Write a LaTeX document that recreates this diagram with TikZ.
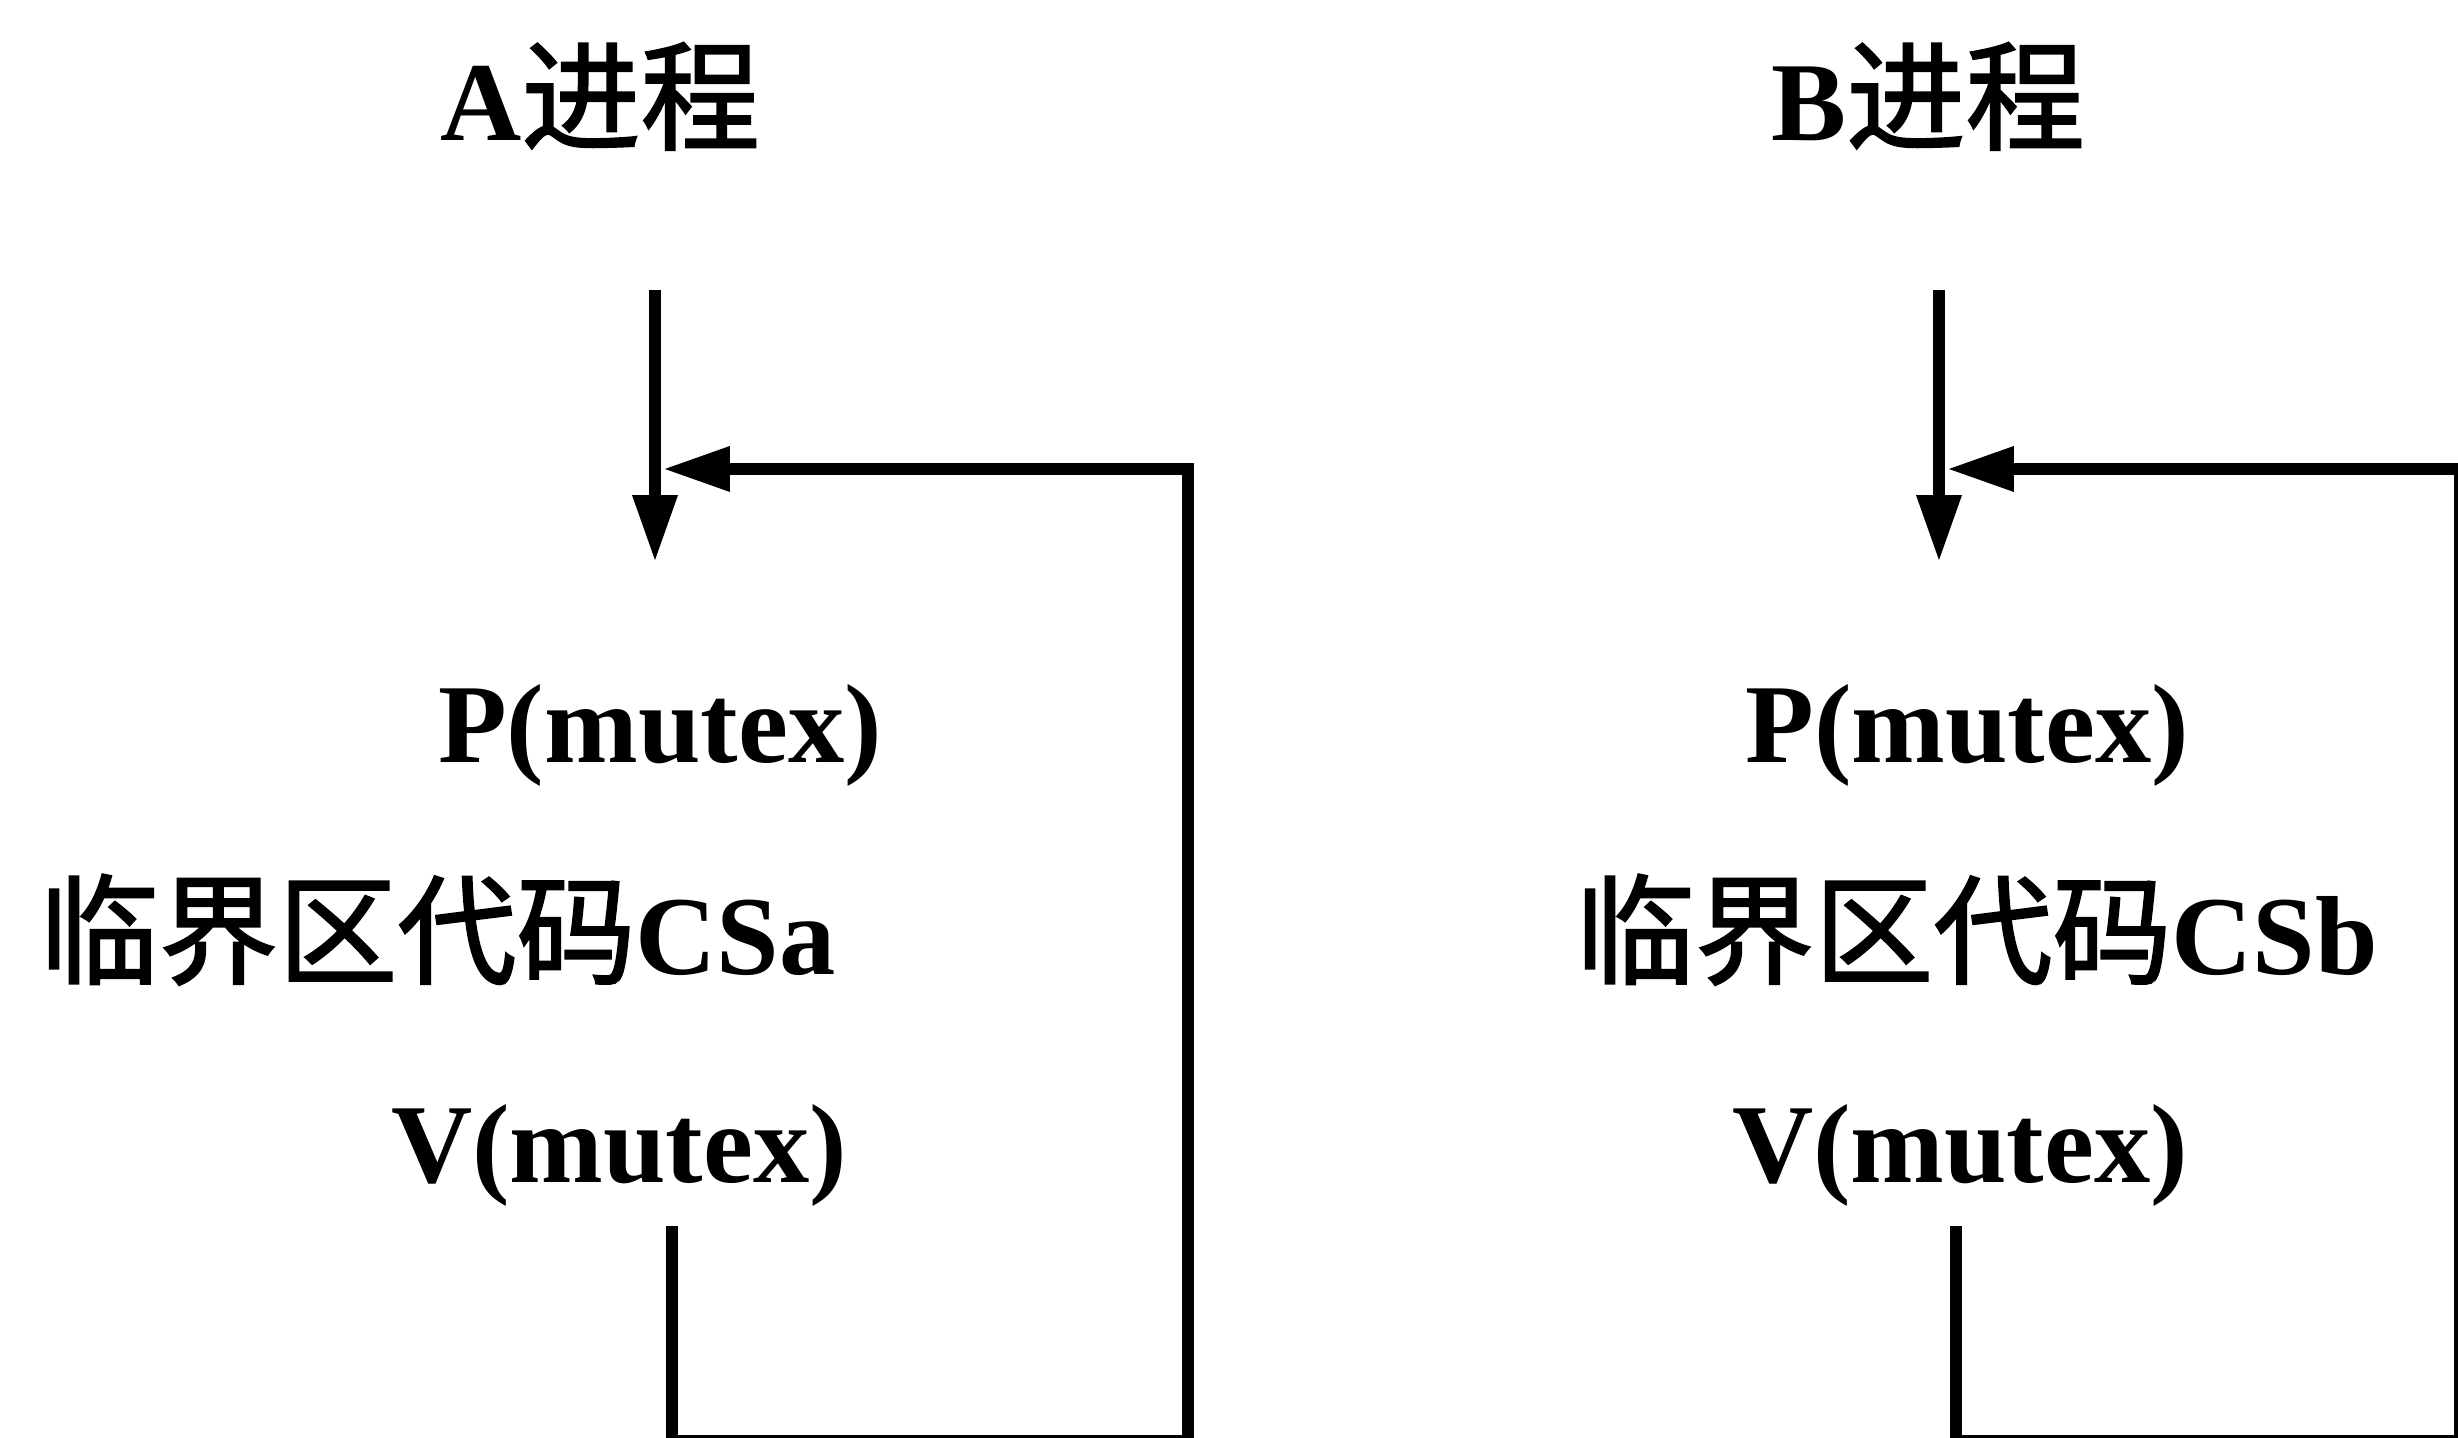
\documentclass[tikz,border=0pt]{standalone}
\usepackage{fontspec}
\setmainfont{Liberation Serif}
\newfontfamily\cjk[Scale=1.06, FakeBold=1.6]{Noto Sans CJK SC}
\newcommand{\zh}[1]{{\cjk\mdseries #1}}
\usetikzlibrary{positioning}
\usetikzlibrary{arrows.meta}
\tikzset{
    mytext/.style = {anchor=base, inner sep=0pt, font=\bfseries\fontsize{32}{38}\selectfont, text=black},
    edgen/.style = {-, line width=3.4pt, black},
    edgea/.style = {-{Triangle[length=19pt,width=12pt]}, line width=3.4pt, black}, % flow
}

\begin{document}
\begin{tikzpicture}
\useasboundingbox (0,0) rectangle (24.58,14.38);

\node[mytext] at ( 6.00, 12.97) (titleA) {A\zh{进程}};
\node[mytext] at (19.28, 12.97) (titleB) {B\zh{进程}};

\node[mytext] at ( 6.60,  6.75) (pA) {P(mutex)};
\node[mytext, anchor=base west] at ( 0.39,  4.63) (csA) {\zh{临界区代码}CSa};
\node[mytext] at ( 6.19,  2.55) (vA) {V(mutex)};

\node[mytext] at (19.67,  6.75) (pB) {P(mutex)};
\node[mytext, anchor=base west] at (15.75,  4.63) (csB) {\zh{临界区代码}CSb};
\node[mytext] at (19.60,  2.55) (vB) {V(mutex)};

\coordinate (inA)   at ( 6.55, 11.48);
\coordinate (tipA)  at ( 6.55,  8.76);
\coordinate (joinA) at ( 6.63,  9.69);
\coordinate (outA)  at ( 6.72,  2.12);
\coordinate (botA)  at ( 6.72, -0.03);
\coordinate (cornA) at (11.88, -0.03);
\coordinate (topA)  at (11.88,  9.69);

\coordinate (inB)   at (19.39, 11.48);
\coordinate (tipB)  at (19.39,  8.76);
\coordinate (joinB) at (19.47,  9.69);
\coordinate (outB)  at (19.56,  2.12);
\coordinate (botB)  at (19.56, -0.03);
\coordinate (cornB) at (24.60, -0.03);
\coordinate (topB)  at (24.60,  9.69);

\draw[edgea] (inA) -- (tipA);
\draw[edgea] (outA) -- (botA) -- (cornA) -- (topA) -- (joinA);

\draw[edgea] (inB) -- (tipB);
\draw[edgea] (outB) -- (botB) -- (cornB) -- (topB) -- (joinB);

\end{tikzpicture}
\end{document}
